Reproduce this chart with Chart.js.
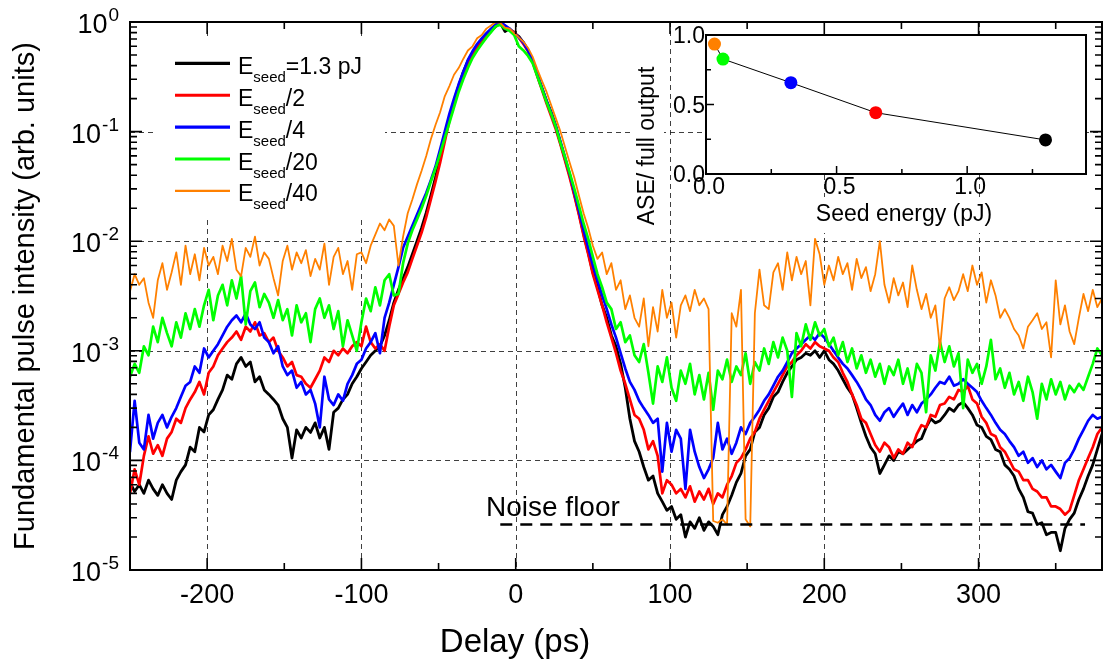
<!DOCTYPE html>
<html>
<head>
<meta charset="utf-8">
<title>Fundamental pulse intensity vs delay</title>
<script src="https://cdn.jsdelivr.net/npm/chart.js@4/dist/chart.umd.min.js"></script>
<style>
  html, body { margin: 0; padding: 0; background: #fff; }
  #wrap { position: relative; width: 1103px; height: 661px; overflow: hidden; }
  #main { position: absolute; left: 0; top: 0; }
  #inset { position: absolute; left: 600px; top: 20px; }
</style>
</head>
<body>
<div id="wrap">
  <canvas id="main" width="1103" height="661"></canvas>
  <canvas id="inset" width="503" height="230"></canvas>
</div>
<script>
// ---- Delay axis samples (ps) ----
const delayPs = [
  -250,-247,-244,-241,-238,-235,-232,-229,-226,-223,
  -220,-217,-214,-211,-208,-205,-202,-199,-196,-193,
  -190,-187,-184,-181,-178,-175,-172,-169,-166,-163,
  -160,-157,-154,-151,-148,-145,-142,-139,-136,-133,
  -130,-127,-124,-121,-118,-115,-112,-109,-106,-103,
  -100,-97,-94,-91,-88,-85,-82,-79,-76,-73,
  -70,-67,-64,-61,-58,-55,-52,-49,-46,-43,
  -40,-37,-34,-31,-28,-25,-22,-19,-16,-13,
  -10,-7,-4,-1,2,5,8,11,14,17,
  20,23,26,29,32,35,38,41,44,47,
  50,53,56,59,62,65,68,71,74,77,
  80,83,86,89,92,95,98,101,104,107,
  110,113,116,119,122,125,128,131,134,137,
  140,143,146,149,152,155,158,161,164,167,
  170,173,176,179,182,185,188,191,194,197,
  200,203,206,209,212,215,218,221,224,227,
  230,233,236,239,242,245,248,251,254,257,
  260,263,266,269,272,275,278,281,284,287,
  290,293,296,299,302,305,308,311,314,317,
  320,323,326,329,332,335,338,341,344,347,
  350,353,356,359,362,365,368,371,374,377,
  380
];

// ---- Fundamental pulse intensity (arb. units), one array per seed energy ----
const intensityFull = [ // E_seed = 1.3 pJ
  6.3e-5,5.2e-5,6.0e-5,5.0e-5,6.6e-5,5.5e-5,4.8e-5,6.0e-5,5.0e-5,4.4e-5,
  6.6e-5,7.9e-5,9.1e-5,1.32e-4,1.2e-4,2.0e-4,1.82e-4,2.6e-4,2.9e-4,3.6e-4,
  4.4e-4,6.0e-4,5.5e-4,7.6e-4,8.7e-4,7.2e-4,7.9e-4,5.2e-4,5.8e-4,4.4e-4,
  4.0e-4,3.6e-4,3.2e-4,2.4e-4,2.0e-4,1.05e-4,1.9e-4,1.6e-4,2.0e-4,1.8e-4,
  2.2e-4,1.6e-4,2.0e-4,1.26e-4,2.75e-4,3.0e-4,3.6e-4,4.0e-4,5.0e-4,5.8e-4,
  6.9e-4,7.9e-4,9.1e-4,1.0e-3,1.1e-3,1.38e-3,1.9e-3,2.75e-3,3.6e-3,4.6e-3,
  5.8e-3,7.6e-3,1.0e-2,1.32e-2,1.82e-2,2.6e-2,3.8e-2,5.8e-2,8.9e-2,0.135,
  0.19,0.26,0.35,0.44,0.52,0.60,0.68,0.76,0.83,0.91,
  0.98,0.82,0.87,0.79,0.74,0.65,0.55,0.44,0.33,0.25,
  0.19,0.15,0.112,0.079,0.056,0.040,0.027,0.018,0.0117,0.0079,
  5.2e-3,3.8e-3,2.6e-3,2.0e-3,1.38e-3,1.1e-3,7.6e-4,4.6e-4,2.4e-4,1.5e-4,
  1.2e-4,8.7e-5,6.6e-5,7.2e-5,5.0e-5,4.2e-5,3.5e-5,3.8e-5,2.9e-5,3.2e-5,
  2.0e-5,2.75e-5,2.4e-5,3.0e-5,2.3e-5,2.75e-5,2.5e-5,2.1e-5,3.2e-5,3.8e-5,
  4.8e-5,6.3e-5,7.6e-5,1.1e-4,1.26e-4,1.82e-4,2.0e-4,2.6e-4,3.0e-4,3.8e-4,
  4.2e-4,5.2e-4,6.3e-4,7.2e-4,8.3e-4,8.7e-4,9.5e-4,9.1e-4,1.0e-3,8.7e-4,
  1.0e-3,8.3e-4,7.6e-4,6.6e-4,5.5e-4,4.6e-4,4.0e-4,3.0e-4,2.2e-4,1.66e-4,
  1.32e-4,1.15e-4,7.6e-5,9.1e-5,1.1e-4,1.0e-4,1.2e-4,1.15e-4,1.26e-4,1.38e-4,
  1.5e-4,1.58e-4,2.0e-4,2.4e-4,2.2e-4,2.3e-4,2.6e-4,3.0e-4,2.8e-4,3.2e-4,
  3.4e-4,3.0e-4,2.6e-4,2.1e-4,2.0e-4,1.66e-4,1.55e-4,1.26e-4,1.2e-4,9.1e-5,
  8.3e-5,7.2e-5,5.5e-5,4.6e-5,3.4e-5,3.3e-5,2.6e-5,2.7e-5,2.1e-5,2.2e-5,
  2.2e-5,1.5e-5,2.4e-5,2.9e-5,3.3e-5,4.4e-5,5.5e-5,7.2e-5,9.1e-5,1.26e-4,
  1.74e-4
];

const intensityHalf = [ // E_seed / 2
  5.0e-5,8.3e-5,6.0e-5,1.1e-4,1.66e-4,1.15e-4,1.38e-4,1.1e-4,1.58e-4,1.82e-4,
  2.4e-4,2.2e-4,3.0e-4,3.6e-4,4.2e-4,5.2e-4,4.0e-4,6.3e-4,7.2e-4,9.1e-4,
  1.05e-3,1.2e-3,1.32e-3,1.5e-3,1.26e-3,1.66e-3,1.5e-3,1.82e-3,1.38e-3,1.45e-3,
  1.2e-3,1.32e-3,1.0e-3,8.7e-4,7.2e-4,7.9e-4,6.0e-4,5.8e-4,5.0e-4,4.6e-4,
  5.5e-4,6.6e-4,8.7e-4,7.9e-4,1.0e-3,9.1e-4,1.05e-3,9.5e-4,1.1e-3,1.2e-3,
  1.1e-3,1.66e-3,1.2e-3,1.05e-3,1.15e-3,1.0e-3,1.66e-3,2.6e-3,3.3e-3,4.2e-3,
  5.2e-3,6.9e-3,9.1e-3,1.2e-2,1.66e-2,2.4e-2,3.5e-2,5.2e-2,8.1e-2,0.126,
  0.18,0.25,0.33,0.43,0.51,0.60,0.69,0.76,0.85,0.91,
  0.98,0.93,0.85,0.81,0.72,0.63,0.54,0.43,0.32,0.24,
  0.18,0.138,0.105,0.076,0.054,0.038,0.026,0.0174,0.0112,0.0076,
  5.0e-3,3.6e-3,2.6e-3,1.82e-3,1.32e-3,9.5e-4,6.6e-4,5.0e-4,3.6e-4,2.6e-4,
  2.4e-4,1.9e-4,1.26e-4,1.5e-4,1.1e-4,5.0e-5,6.6e-5,6.0e-5,5.0e-5,5.5e-5,
  4.6e-5,5.8e-5,4.2e-5,5.2e-5,4.4e-5,5.5e-5,4.0e-5,5.0e-5,4.6e-5,6.0e-5,
  7.2e-5,9.5e-5,1.05e-4,1.26e-4,1.58e-4,1.82e-4,2.4e-4,2.9e-4,3.5e-4,4.2e-4,
  5.0e-4,6.0e-4,7.2e-4,7.9e-4,9.1e-4,1.0e-3,1.15e-3,1.05e-3,1.2e-3,1.1e-3,
  1.05e-3,1.0e-3,8.7e-4,7.9e-4,6.3e-4,5.2e-4,4.0e-4,3.2e-4,2.4e-4,2.2e-4,
  1.74e-4,1.38e-4,1.2e-4,1.45e-4,1.32e-4,1.05e-4,1.26e-4,1.15e-4,1.45e-4,1.32e-4,
  1.74e-4,2.1e-4,2.0e-4,2.6e-4,2.5e-4,3.2e-4,3.3e-4,3.8e-4,3.6e-4,4.4e-4,
  4.2e-4,4.8e-4,3.6e-4,3.3e-4,2.5e-4,2.2e-4,1.74e-4,1.66e-4,1.32e-4,1.2e-4,
  1.0e-4,8.3e-5,7.9e-5,6.6e-5,6.6e-5,5.5e-5,5.2e-5,4.6e-5,4.6e-5,3.8e-5,
  3.8e-5,3.6e-5,3.2e-5,3.5e-5,4.8e-5,6.6e-5,8.3e-5,1.05e-4,1.32e-4,1.74e-4,
  2.0e-4
];

const intensityQuarter = [ // E_seed / 4
  1.2e-4,3.5e-4,1.45e-4,1.26e-4,2.6e-4,1.58e-4,2.2e-4,2.6e-4,2.0e-4,2.5e-4,
  3.0e-4,3.8e-4,4.8e-4,5.2e-4,7.2e-4,6.3e-4,1.05e-3,8.7e-4,1.0e-3,1.15e-3,
  1.38e-3,1.66e-3,1.9e-3,2.1e-3,1.82e-3,2.2e-3,1.74e-3,1.58e-3,1.82e-3,1.32e-3,
  1.2e-3,9.5e-4,1.1e-3,7.2e-4,6.0e-4,6.6e-4,4.6e-4,5.2e-4,4.0e-4,4.4e-4,
  3.3e-4,2.0e-4,5.8e-4,3.6e-4,3.2e-4,4.0e-4,3.5e-4,5.0e-4,6.0e-4,7.6e-4,
  8.3e-4,1.05e-3,1.2e-3,1.45e-3,9.5e-4,2.0e-3,2.75e-3,4.0e-3,5.8e-3,8.7e-3,
  1.1e-2,1.38e-2,1.74e-2,2.2e-2,2.75e-2,3.6e-2,4.8e-2,6.9e-2,0.100,0.145,
  0.20,0.27,0.35,0.45,0.54,0.63,0.71,0.79,0.87,0.95,
  1.0,0.93,0.87,0.79,0.72,0.65,0.55,0.44,0.33,0.25,
  0.19,0.148,0.112,0.081,0.058,0.041,0.028,0.019,0.0126,0.0087,
  6.0e-3,4.4e-3,3.2e-3,2.4e-3,1.74e-3,1.32e-3,9.5e-4,6.9e-4,5.2e-4,4.4e-4,
  3.5e-4,3.0e-4,2.6e-4,2.2e-4,2.4e-4,7.9e-5,2.2e-4,1.2e-4,1.9e-4,1.58e-4,
  5.5e-5,1.9e-4,1.2e-4,8.7e-5,6.9e-5,8.3e-5,1.05e-4,2.2e-4,1.26e-4,1.58e-4,
  1.15e-4,1.45e-4,2.0e-4,1.74e-4,2.2e-4,2.5e-4,2.9e-4,3.5e-4,4.0e-4,4.8e-4,
  5.8e-4,6.6e-4,7.9e-4,9.5e-4,1.05e-3,1.15e-3,1.26e-3,1.38e-3,1.26e-3,1.45e-3,
  1.32e-3,1.15e-3,1.0e-3,8.7e-4,7.6e-4,6.9e-4,6.0e-4,5.2e-4,4.4e-4,3.6e-4,
  3.2e-4,2.6e-4,2.3e-4,2.75e-4,3.0e-4,2.5e-4,2.9e-4,3.3e-4,2.6e-4,3.2e-4,
  2.75e-4,3.3e-4,3.6e-4,4.0e-4,4.6e-4,5.2e-4,5.0e-4,5.8e-4,4.8e-4,5.0e-4,
  5.5e-4,5.0e-4,4.6e-4,4.2e-4,3.5e-4,3.0e-4,2.6e-4,2.2e-4,1.9e-4,1.74e-4,
  1.5e-4,1.32e-4,1.1e-4,1.2e-4,9.5e-5,1.05e-4,8.7e-5,1.0e-4,8.3e-5,9.1e-5,
  7.9e-5,6.9e-5,9.5e-5,1.05e-4,1.26e-4,1.58e-4,1.9e-4,2.3e-4,2.6e-4,2.4e-4,
  2.5e-4
];

const intensityTwentieth = [ // E_seed / 20
  5.8e-4,7.6e-4,6.3e-4,1.1e-3,9.1e-4,1.66e-3,1.2e-3,2.0e-3,1.45e-3,1.1e-3,
  1.82e-3,1.32e-3,2.2e-3,1.58e-3,2.4e-3,1.66e-3,2.6e-3,3.6e-3,1.9e-3,3.2e-3,
  4.0e-3,2.6e-3,4.4e-3,3.0e-3,4.8e-3,1.74e-3,3.5e-3,4.2e-3,2.5e-3,3.3e-3,
  2.75e-3,2.0e-3,2.9e-3,1.9e-3,2.4e-3,1.38e-3,2.6e-3,1.82e-3,2.2e-3,1.2e-3,
  2.4e-3,3.0e-3,2.0e-3,2.6e-3,1.58e-3,2.3e-3,1.1e-3,1.9e-3,1.38e-3,1.0e-3,
  1.82e-3,3.0e-3,2.3e-3,3.8e-3,2.6e-3,4.4e-3,5.0e-3,3.2e-3,3.3e-3,6.3e-3,
  9.5e-3,1.26e-2,1.58e-2,2.0e-2,2.6e-2,3.5e-2,4.6e-2,6.3e-2,8.7e-2,0.120,
  0.166,0.23,0.30,0.38,0.47,0.55,0.63,0.72,0.81,0.91,
  0.95,0.87,0.83,0.76,0.60,0.55,0.49,0.42,0.32,0.245,
  0.186,0.145,0.110,0.079,0.058,0.042,0.030,0.021,0.0145,0.0105,
  7.2e-3,5.0e-3,3.8e-3,2.75e-3,2.4e-3,1.58e-3,1.82e-3,1.2e-3,1.38e-3,9.1e-4,
  7.9e-4,1.15e-3,6.3e-4,3.3e-4,7.2e-4,5.2e-4,8.7e-4,4.6e-4,3.5e-4,6.6e-4,
  5.0e-4,7.6e-4,4.0e-4,6.0e-4,3.6e-4,6.3e-4,2.9e-4,6.6e-4,5.5e-4,8.3e-4,
  5.2e-4,7.2e-4,6.0e-4,9.5e-4,5.0e-4,7.9e-4,6.6e-4,1.05e-3,7.6e-4,1.2e-3,
  8.7e-4,1.32e-3,1.0e-3,3.8e-4,1.45e-3,1.1e-3,1.74e-3,1.26e-3,1.82e-3,1.38e-3,
  1.58e-3,1.1e-3,1.32e-3,9.1e-4,1.2e-3,7.9e-4,1.05e-3,6.9e-4,9.1e-4,6.3e-4,
  8.3e-4,5.8e-4,7.6e-4,5.0e-4,7.2e-4,6.0e-4,8.3e-4,5.0e-4,6.9e-4,4.4e-4,
  7.6e-4,6.3e-4,2.75e-4,9.1e-4,6.6e-4,1.2e-3,7.9e-4,1.1e-3,7.2e-4,9.5e-4,
  3.0e-4,8.3e-4,6.3e-4,7.6e-4,5.0e-4,7.2e-4,1.26e-3,5.5e-4,6.9e-4,4.6e-4,
  6.3e-4,4.0e-4,5.2e-4,3.5e-4,5.8e-4,4.2e-4,2.4e-4,5.0e-4,3.6e-4,5.5e-4,
  4.0e-4,5.2e-4,3.6e-4,4.8e-4,4.2e-4,5.0e-4,4.4e-4,5.8e-4,7.6e-4,1.05e-3,
  9.1e-4
];

const intensityFortieth = [ // E_seed / 40
  3.5e-3,5.0e-3,4.0e-3,4.6e-3,2.75e-3,2.0e-3,4.4e-3,6.3e-3,3.6e-3,5.2e-3,
  7.9e-3,4.0e-3,9.1e-3,5.0e-3,7.6e-3,4.4e-3,8.7e-3,6.0e-3,7.2e-3,5.0e-3,
  9.1e-3,6.6e-3,1.05e-2,5.5e-3,4.8e-3,8.7e-3,7.2e-3,1.1e-2,6.0e-3,7.9e-3,
  6.9e-3,4.6e-3,3.2e-3,6.6e-3,9.1e-3,5.5e-3,7.9e-3,6.3e-3,8.3e-3,4.8e-3,
  6.9e-3,5.5e-3,9.5e-3,4.0e-3,7.2e-3,8.7e-3,5.0e-3,6.6e-3,3.6e-3,7.6e-3,
  7.9e-3,6.3e-3,9.1e-3,1.15e-2,1.45e-2,1.26e-2,1.58e-2,1.38e-2,6.0e-3,1.1e-2,
  1.8e-2,2.4e-2,3.3e-2,4.4e-2,6.0e-2,8.5e-2,0.115,0.150,0.21,0.26,
  0.33,0.38,0.46,0.55,0.60,0.71,0.76,0.87,0.93,1.0,
  0.98,0.89,0.87,0.79,0.72,0.66,0.58,0.48,0.37,0.29,
  0.23,0.174,0.132,0.100,0.072,0.052,0.038,0.026,0.018,0.0132,
  9.1e-3,6.9e-3,7.9e-3,5.0e-3,6.3e-3,3.6e-3,4.4e-3,2.4e-3,3.2e-3,2.0e-3,
  1.66e-3,3.0e-3,1.1e-3,2.5e-3,1.5e-3,3.6e-3,2.0e-3,2.75e-3,1.32e-3,2.6e-3,
  3.2e-3,2.3e-3,3.6e-3,2.6e-3,3.0e-3,2.4e-3,2.8e-5,2.7e-5,2.9e-5,2.6e-5,
  2.2e-3,1.66e-3,3.6e-3,2.9e-5,2.5e-5,2.2e-3,5.5e-3,2.6e-3,2.4e-3,5.2e-3,
  6.3e-3,3.6e-3,7.9e-3,4.4e-3,7.2e-3,5.0e-3,6.6e-3,2.6e-3,1.05e-2,7.6e-3,
  4.0e-3,6.0e-3,4.4e-3,7.2e-3,5.0e-3,6.3e-3,3.6e-3,6.9e-3,4.6e-3,5.8e-3,
  3.5e-3,5.0e-3,1.0e-2,4.0e-3,2.75e-3,4.6e-3,3.2e-3,4.2e-3,2.5e-3,6.0e-3,
  3.6e-3,2.4e-3,3.3e-3,2.0e-3,2.6e-3,1.05e-3,3.0e-3,3.8e-3,2.9e-3,3.5e-3,
  5.0e-3,3.5e-3,6.0e-3,4.0e-3,5.2e-3,2.75e-3,4.4e-3,3.2e-3,2.0e-3,2.4e-3,
  2.0e-3,1.58e-3,1.38e-3,1.05e-3,1.66e-3,1.9e-3,2.2e-3,1.58e-3,1.82e-3,8.7e-4,
  4.4e-3,1.74e-3,2.6e-3,1.5e-3,1.15e-3,2.0e-3,3.3e-3,2.3e-3,3.6e-3,2.5e-3,
  3.0e-3
];

// Detector noise floor (level and delay span of the reference line)
const noiseFloorLevel = 2.6e-5;
const noiseFloorSpanPs = [-10, 369];

// ---- Inset: ASE fraction of the full output vs seed energy ----
const seedEnergyPJ = [0.0325, 0.065, 0.325, 0.65, 1.3];
const aseFraction  = [0.935, 0.827, 0.657, 0.441, 0.245];
const markerColors = ['#ff8000', '#00ff00', '#0000ff', '#ff0000', '#000000'];

// ---- Tick labels ----
const xMajorTicks = [-200, -100, 0, 100, 200, 300];
const xMinorTicks = [-150, -50, 50, 150, 250, 350];
const yDecadeTicks = [1, 1e-1, 1e-2, 1e-3, 1e-4, 1e-5];
const yDecadeExponents = ['0', '-1', '-2', '-3', '-4', '-5'];
const insetXTicks = [0, 0.5, 1.0];
const insetXTickLabels = ['0.0', '0.5', '1.0'];
const insetXMinor = [0.25, 0.75, 1.25];
const insetYTicks = [0, 0.5, 1.0];
const insetYTickLabels = ['0.0', '0.5', '1.0'];
const insetYMinor = [0.25, 0.75];

const FONT = "'Liberation Sans', Arial, Helvetica, sans-serif";

const series = [
  { suffix: '=1.3 pJ', data: intensityFull,      color: '#000000', width: 2.8 },
  { suffix: '/2',      data: intensityHalf,      color: '#ff0000', width: 2.7 },
  { suffix: '/4',      data: intensityQuarter,   color: '#0000ff', width: 2.7 },
  { suffix: '/20',     data: intensityTwentieth, color: '#00ff00', width: 2.7 },
  { suffix: '/40',     data: intensityFortieth,  color: '#ff8000', width: 1.8 }
];

const datasets = series.map((s, k) => ({
  label: 'Eseed' + s.suffix,
  data: delayPs.map((t, i) => ({ x: t, y: s.data[i] })),
  borderColor: s.color,
  borderWidth: s.width,
  pointRadius: 0,
  fill: false,
  tension: 0,
  borderJoinStyle: 'round',
  borderCapStyle: 'round',
  order: 5 - k
}));
datasets.push({
  label: 'Noise floor',
  data: noiseFloorSpanPs.map(t => ({ x: t, y: noiseFloorLevel })),
  borderColor: '#000000',
  borderWidth: 2.6,
  borderDash: [12, 8],
  pointRadius: 0,
  fill: false,
  order: 0
});

// Superscripted power-of-ten label, right-aligned at xr
function drawPow(ctx, exp, xr, yc) {
  ctx.textAlign = 'right';
  ctx.textBaseline = 'alphabetic';
  ctx.font = `19px ${FONT}`;
  const sw = ctx.measureText(exp).width;
  ctx.fillText(exp, xr, yc - 1);
  ctx.font = `27px ${FONT}`;
  ctx.fillText('10', xr - sw - 1, yc + 11);
}

const mainAxes = {
  id: 'mainAxes',
  beforeDatasetsDraw(chart) {
    const { ctx, chartArea: a, scales: { x, y } } = chart;
    ctx.save();
    ctx.strokeStyle = 'rgba(30,30,30,0.85)';
    ctx.lineWidth = 1;
    ctx.setLineDash([5, 4]);
    ctx.beginPath();
    xMajorTicks.forEach(v => {
      const p = Math.round(x.getPixelForValue(v)) + 0.5;
      ctx.moveTo(p, a.top); ctx.lineTo(p, a.bottom);
    });
    yDecadeTicks.slice(1, -1).forEach(v => {
      const p = Math.round(y.getPixelForValue(v)) + 0.5;
      ctx.moveTo(a.left, p); ctx.lineTo(a.right, p);
    });
    ctx.stroke();
    ctx.restore();
  },
  afterDatasetsDraw(chart) {
    const { ctx, chartArea: a, scales: { x, y } } = chart;
    ctx.save();

    // legend
    ctx.fillStyle = '#fff';
    ctx.fillRect(155, 36, 230, 182);
    series.forEach((s, k) => {
      const cy = 63.3 + k * 31.9;
      ctx.setLineDash([]);
      ctx.strokeStyle = s.color;
      ctx.lineWidth = s.width + 0.4;
      ctx.beginPath(); ctx.moveTo(175, cy); ctx.lineTo(230, cy); ctx.stroke();
      ctx.fillStyle = '#000';
      ctx.textAlign = 'left';
      ctx.textBaseline = 'alphabetic';
      ctx.font = `23px ${FONT}`;
      ctx.fillText('E', 238, cy + 10.5);
      let tx = 238 + ctx.measureText('E').width;
      ctx.font = `15px ${FONT}`;
      ctx.fillText('seed', tx, cy + 18.5);
      tx += ctx.measureText('seed').width;
      ctx.font = `23px ${FONT}`;
      ctx.fillText(s.suffix, tx, cy + 10.5);
    });

    // noise floor label
    ctx.fillStyle = '#000';
    ctx.font = `28px ${FONT}`;
    ctx.textAlign = 'left';
    ctx.fillText('Noise floor', 486, 516);

    // frame
    ctx.setLineDash([]);
    ctx.strokeStyle = '#000';
    ctx.lineWidth = 2;
    ctx.strokeRect(a.left, a.top, a.right - a.left, a.bottom - a.top);

    // inward ticks on all four sides
    ctx.lineWidth = 1.6;
    ctx.beginPath();
    const xt = (v, len) => {
      const p = x.getPixelForValue(v);
      ctx.moveTo(p, a.bottom); ctx.lineTo(p, a.bottom - len);
      ctx.moveTo(p, a.top); ctx.lineTo(p, a.top + len);
    };
    const yt = (v, len) => {
      const p = y.getPixelForValue(v);
      ctx.moveTo(a.left, p); ctx.lineTo(a.left + len, p);
      ctx.moveTo(a.right, p); ctx.lineTo(a.right - len, p);
    };
    xMajorTicks.forEach(v => xt(v, 12));
    xMinorTicks.forEach(v => xt(v, 7));
    yDecadeTicks.slice(1, -1).forEach(v => yt(v, 12));
    yDecadeTicks.slice(1).forEach(d => {
      for (let m = 2; m <= 9; m++) yt(m * d, 7);
    });
    ctx.stroke();

    // tick labels
    ctx.fillStyle = '#000';
    ctx.font = `27px ${FONT}`;
    ctx.textAlign = 'center';
    ctx.textBaseline = 'alphabetic';
    xMajorTicks.forEach(v => ctx.fillText(String(v), x.getPixelForValue(v), 603));
    yDecadeTicks.forEach((v, i) => drawPow(ctx, yDecadeExponents[i], 119, y.getPixelForValue(v)));

    // axis titles
    ctx.textAlign = 'center';
    ctx.font = `33px ${FONT}`;
    ctx.fillText('Delay (ps)', 515, 652);
    ctx.translate(26, 296);
    ctx.rotate(-Math.PI / 2);
    ctx.textBaseline = 'middle';
    ctx.font = `29px ${FONT}`;
    ctx.fillText('Fundamental pulse intensity (arb. units)', 0, 0);
    ctx.restore();
  }
};

new Chart(document.getElementById('main'), {
  type: 'line',
  data: { datasets },
  options: {
    responsive: false,
    animation: false,
    devicePixelRatio: 1,
    layout: { padding: { left: 130, right: 1, top: 22, bottom: 91 } },
    plugins: { legend: { display: false }, tooltip: { enabled: false } },
    scales: {
      x: { type: 'linear', min: -250, max: 380, display: false },
      y: { type: 'logarithmic', min: 1e-5, max: 1, display: false }
    }
  },
  plugins: [mainAxes]
});

// ---- Inset chart ----
const insetAxes = {
  id: 'insetAxes',
  beforeDatasetsDraw(chart) {
    const { ctx, chartArea: a } = chart;
    ctx.save();
    ctx.fillStyle = '#fff';
    ctx.fillRect(a.left, a.top, a.right - a.left, a.bottom - a.top);
    ctx.fillRect(30, 40, 34, 172);   // behind the vertical title
    ctx.fillRect(206, 177, 196, 36); // behind the horizontal title
    ctx.restore();
  },
  afterDatasetsDraw(chart) {
    const { ctx, chartArea: a, scales: { x, y } } = chart;
    ctx.save();
    ctx.strokeStyle = '#000';
    ctx.lineWidth = 2;
    ctx.strokeRect(a.left, a.top, a.right - a.left, a.bottom - a.top);
    ctx.lineWidth = 1.5;
    ctx.beginPath();
    insetXTicks.forEach(v => { const p = x.getPixelForValue(v); ctx.moveTo(p, a.bottom); ctx.lineTo(p, a.bottom - 8); });
    insetXMinor.forEach(v => { const p = x.getPixelForValue(v); ctx.moveTo(p, a.bottom); ctx.lineTo(p, a.bottom - 5); });
    insetYTicks.forEach(v => { const p = y.getPixelForValue(v); ctx.moveTo(a.left, p); ctx.lineTo(a.left + 8, p); });
    insetYMinor.forEach(v => { const p = y.getPixelForValue(v); ctx.moveTo(a.left, p); ctx.lineTo(a.left + 5, p); });
    ctx.stroke();

    ctx.fillStyle = '#000';
    ctx.font = `23px ${FONT}`;
    ctx.textAlign = 'center';
    ctx.textBaseline = 'alphabetic';
    insetXTicks.forEach((v, i) => ctx.fillText(insetXTickLabels[i], x.getPixelForValue(v) + 3, a.bottom + 20));
    ctx.textAlign = 'right';
    ctx.textBaseline = 'middle';
    insetYTicks.forEach((v, i) => ctx.fillText(insetYTickLabels[i], a.left - 1, y.getPixelForValue(v) + 2));

    ctx.textAlign = 'center';
    ctx.textBaseline = 'alphabetic';
    ctx.fillText('Seed energy (pJ)', 304, 201);
    ctx.translate(48, 126);
    ctx.rotate(-Math.PI / 2);
    ctx.textBaseline = 'middle';
    ctx.fillText('ASE/ full output', 0, 0);
    ctx.restore();
  }
};

new Chart(document.getElementById('inset'), {
  type: 'scatter',
  data: {
    datasets: [{
      data: seedEnergyPJ.map((e, i) => ({ x: e, y: aseFraction[i] })),
      showLine: true,
      borderColor: '#000',
      borderWidth: 1,
      pointRadius: 6.5,
      pointHoverRadius: 6.5,
      pointBackgroundColor: markerColors,
      pointBorderWidth: 0,
      clip: false
    }]
  },
  options: {
    responsive: false,
    animation: false,
    devicePixelRatio: 1,
    layout: { padding: { left: 106, right: 17, top: 15, bottom: 76 } },
    plugins: { legend: { display: false }, tooltip: { enabled: false } },
    scales: {
      x: { type: 'linear', min: 0, max: 1.455, display: false },
      y: { type: 'linear', min: 0, max: 1, display: false }
    }
  },
  plugins: [insetAxes]
});
</script>
</body>
</html>
